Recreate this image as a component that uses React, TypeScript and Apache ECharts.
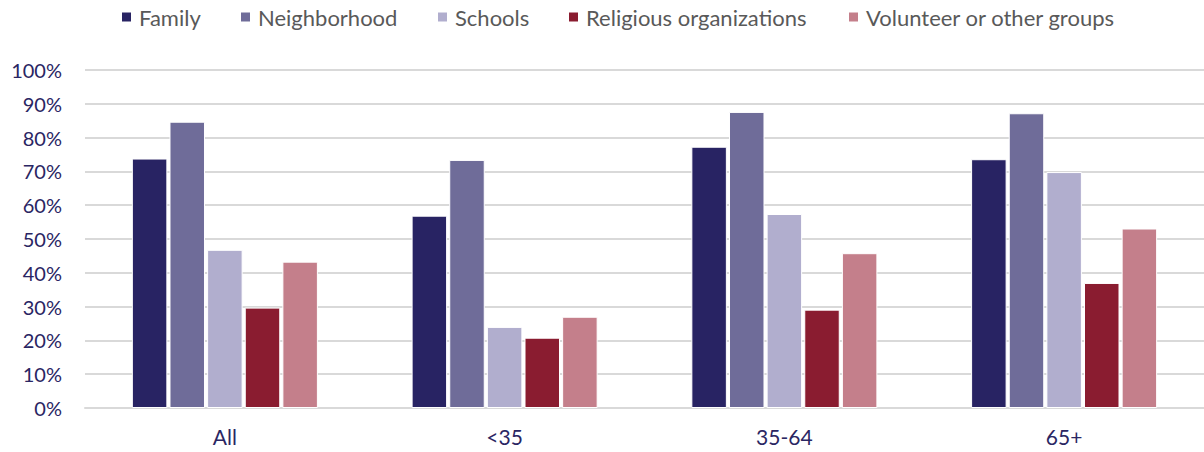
import React, { useEffect, useRef } from "react";
import * as echarts from "echarts";

// Age groups along the x axis
const categories = ["All", "<35", "35-64", "65+"];

// Share of respondents (%) per source, by age group
const family = [73.8, 56.9, 77.3, 73.6];
const neighborhood = [84.7, 73.4, 87.6, 87.2];
const schools = [46.8, 24.0, 57.4, 69.8];
const religious = [29.7, 20.8, 29.1, 37.0];
const volunteer = [43.3, 27.0, 45.8, 53.1];

const seriesNames = [
  "Family",
  "Neighborhood",
  "Schools",
  "Religious organizations",
  "Volunteer or other groups",
];
const seriesData = [family, neighborhood, schools, religious, volunteer];
const seriesColors = ["#282363", "#6F6C99", "#B1AECE", "#8A1C30", "#C47F8B"];

// Left edge of each legend entry's swatch
const LEGEND_X = [120, 239, 436, 567, 847];
const LEGEND_PAD = 5;

const FONT = "Lato, 'Noto Sans', sans-serif";

export default function App() {
  const ref = useRef<HTMLDivElement>(null);

  useEffect(() => {
    if (!ref.current) return;
    const chart = echarts.init(ref.current, undefined, { renderer: "svg" });
    chart.setOption({
      animation: false,
      backgroundColor: "#ffffff",
      textStyle: { fontFamily: FONT },
      legend: seriesNames.map((name, i) => ({
        top: 1,
        left: LEGEND_X[i] - LEGEND_PAD,
        padding: LEGEND_PAD,
        icon: "rect",
        itemWidth: 11,
        itemHeight: 11,
        textStyle: {
          color: "#595959",
          fontSize: 22,
          fontFamily: FONT,
          padding: [0, 0, 0, 2],
        },
        data: [name],
      })),
      grid: { left: 85, top: 70, width: 1123, bottom: 44, containLabel: false },
      xAxis: {
        type: "category",
        data: categories,
        axisLine: { lineStyle: { color: "#D9D9D9", width: 2 } },
        axisTick: { show: false },
        axisLabel: { color: "#2A2663", fontSize: 21, margin: 18, fontFamily: FONT },
      },
      yAxis: {
        type: "value",
        min: 0,
        max: 100,
        interval: 10,
        axisLine: { show: false },
        axisTick: { show: false },
        axisLabel: {
          color: "#2A2663",
          fontSize: 20,
          margin: 23,
          fontFamily: FONT,
          formatter: (v: number) => `${v}%`,
        },
        splitLine: { lineStyle: { color: "#D9D9D9", width: 2 } },
      },
      series: seriesNames.map((name, i) => ({
        name,
        type: "bar",
        data: seriesData[i],
        barGap: "6%",
        barCategoryGap: "33.5%",
        itemStyle: {
          color: seriesColors[i],
          borderColor: "#ffffff",
          borderWidth: 1,
        },
      })),
    });
    return () => chart.dispose();
  }, []);

  return (
    <div
      ref={ref}
      style={{ position: "absolute", left: 0, top: 0, width: 1204, height: 452 }}
    />
  );
}
